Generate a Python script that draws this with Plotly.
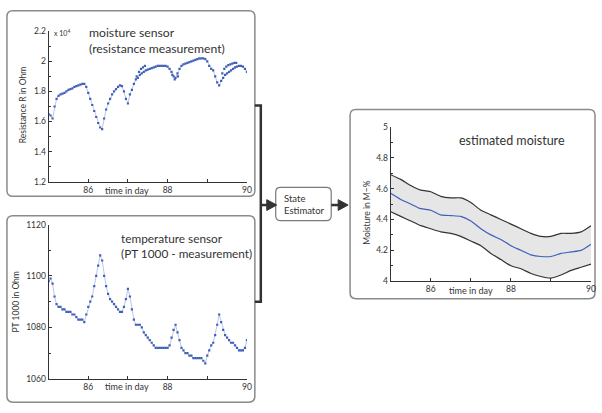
import plotly.graph_objects as go

W, H = 602, 413

# ---------------- data ----------------
# moisture sensor (resistance, in 10^4 Ohm)
t_res = [85.00, 85.05, 85.10, 85.15, 85.20, 85.25, 85.30, 85.35, 85.40, 85.45,
         85.50, 85.55, 85.60, 85.65, 85.70, 85.75, 85.80, 85.85, 85.90, 85.95,
         86.00, 86.05, 86.10, 86.15, 86.20, 86.25, 86.30, 86.35, 86.40, 86.45,
         86.50, 86.55, 86.60, 86.65, 86.70, 86.75, 86.80, 86.85, 86.90, 86.95,
         87.00, 87.05, 87.10, 87.15, 87.20, 87.25, 87.30, 87.35, 87.40, 87.45,
         87.50, 87.55, 87.60, 87.65, 87.70, 87.75, 87.80, 87.85, 87.90, 87.95,
         88.00, 88.05, 88.10, 88.15, 88.20, 88.25, 88.30, 88.35, 88.40, 88.45,
         88.50, 88.55, 88.60, 88.65, 88.70, 88.75, 88.80, 88.85, 88.90, 88.95,
         89.00, 89.05, 89.10, 89.15, 89.20, 89.25, 89.30, 89.35, 89.40, 89.45,
         89.50, 89.55, 89.60, 89.65, 89.70, 89.75, 89.80, 89.85, 89.90, 89.95,
         90.00]
res_1e4 = [1.65, 1.64, 1.62, 1.70, 1.75, 1.77, 1.78, 1.785, 1.79, 1.80,
           1.81, 1.815, 1.82, 1.83, 1.835, 1.84, 1.845, 1.85, 1.85, 1.83,
           1.79, 1.75, 1.71, 1.67, 1.63, 1.59, 1.56, 1.55, 1.62, 1.68,
           1.72, 1.75, 1.78, 1.80, 1.815, 1.83, 1.84, 1.835, 1.80, 1.75,
           1.72, 1.78, 1.81, 1.85, 1.88, 1.89, 1.91, 1.92, 1.93, 1.94,
           1.945, 1.95, 1.955, 1.96, 1.965, 1.97, 1.97, 1.97, 1.97, 1.97,
           1.965, 1.95, 1.93, 1.90, 1.89, 1.92, 1.95, 1.97, 1.98, 1.985,
           1.99, 1.995, 2.0, 2.005, 2.01, 2.015, 2.02, 2.02, 2.02, 2.015,
           2.0, 1.97, 1.95, 1.94, 1.90, 1.86, 1.84, 1.87, 1.89, 1.91,
           1.92, 1.93, 1.94, 1.95, 1.96, 1.965, 1.97, 1.97, 1.965, 1.95,
           1.93]
# second (scattered) track of resistance readings
t_res_extra = [87.22, 87.28, 87.33, 87.38, 87.43, 88.12, 88.18, 88.26,
               89.38, 89.43, 89.48, 89.53, 89.58, 89.63, 89.68, 89.73]
res_1e4_extra = [1.90, 1.93, 1.95, 1.96, 1.97, 1.91, 1.88, 1.90,
                 1.92, 1.95, 1.965, 1.975, 1.98, 1.985, 1.99, 1.99]

# temperature sensor (PT 1000, Ohm)
t_pt = t_res
pt1000 = [1098, 1099, 1097, 1092, 1089, 1088, 1088, 1087, 1087, 1086,
          1086, 1086, 1085, 1085, 1084, 1083, 1083, 1083, 1082, 1085,
          1088, 1090, 1092, 1096, 1100, 1104, 1108, 1106, 1100, 1096,
          1093, 1091, 1090, 1089, 1088, 1087, 1086, 1086, 1088, 1091,
          1095, 1092, 1087, 1083, 1081, 1081, 1081, 1080, 1078, 1077,
          1076, 1075, 1074, 1073, 1072, 1072, 1072, 1072, 1072, 1072,
          1072, 1073, 1076, 1079, 1081, 1078, 1075, 1072, 1071, 1070,
          1070, 1069, 1069, 1068, 1068, 1068, 1068, 1068, 1067, 1066,
          1069, 1071, 1073, 1074, 1077, 1081, 1085, 1082, 1079, 1077,
          1076, 1075, 1074, 1074, 1073, 1072, 1071, 1071, 1071, 1072,
          1075]

# estimated moisture (M-%)
t_est = [85.00, 85.25, 85.50, 85.75, 86.00, 86.25, 86.50, 86.75, 87.00, 87.25,
         87.50, 87.75, 88.00, 88.25, 88.50, 88.75, 89.00, 89.25, 89.50, 89.75, 90.00]
est_mid = [4.57, 4.53, 4.50, 4.47, 4.46, 4.43, 4.425, 4.42, 4.39, 4.34,
           4.30, 4.27, 4.23, 4.20, 4.17, 4.16, 4.16, 4.18, 4.19, 4.20, 4.24]
est_upper = [4.69, 4.66, 4.62, 4.59, 4.58, 4.55, 4.54, 4.54, 4.51, 4.46,
             4.43, 4.40, 4.37, 4.34, 4.31, 4.29, 4.29, 4.31, 4.31, 4.32, 4.36]
est_lower = [4.45, 4.42, 4.39, 4.36, 4.34, 4.32, 4.31, 4.29, 4.26, 4.23,
             4.18, 4.14, 4.10, 4.08, 4.05, 4.03, 4.02, 4.04, 4.07, 4.09, 4.11]

x_tickvals = [86, 88, 90]
x_ticktext = ["86", "88", "90"]

# ---------------- helpers ----------------
def px(x):
    return x / W

def py(y):
    return 1 - y / H

def rrect(x0, y0, x1, y1, r):
    X0, X1 = px(x0), px(x1)
    Y0, Y1 = py(y0), py(y1)
    rx, ry = r / W, r / H
    return (f"M {X0+rx},{Y0} L {X1-rx},{Y0} Q {X1},{Y0} {X1},{Y0-ry} "
            f"L {X1},{Y1+ry} Q {X1},{Y1} {X1-rx},{Y1} "
            f"L {X0+rx},{Y1} Q {X0},{Y1} {X0},{Y1+ry} "
            f"L {X0},{Y0-ry} Q {X0},{Y0} {X0+rx},{Y0} Z")

FONT = "Lato"
BLUE = "#3f5fb8"
DARK = "#333333"

fig = go.Figure()

dot = dict(color=BLUE, size=2.2, symbol="square")
faint = dict(color="rgba(63,95,184,0.45)", width=0.8)
fig.add_trace(go.Scatter(x=t_res, y=res_1e4, mode="lines+markers", marker=dot, line=faint,
                         xaxis="x", yaxis="y", showlegend=False))
fig.add_trace(go.Scatter(x=t_res_extra, y=res_1e4_extra, mode="markers", marker=dot,
                         xaxis="x", yaxis="y", showlegend=False))
fig.add_trace(go.Scatter(x=t_pt, y=pt1000, mode="lines+markers", marker=dot, line=faint,
                         xaxis="x2", yaxis="y2", showlegend=False))
fig.add_trace(go.Scatter(x=t_est, y=est_upper, mode="lines",
                         line=dict(color=DARK, width=1.2, shape="spline", smoothing=0.6),
                         xaxis="x3", yaxis="y3", showlegend=False))
fig.add_trace(go.Scatter(x=t_est, y=est_lower, mode="lines", fill="tonexty",
                         fillcolor="#e6e6e6",
                         line=dict(color=DARK, width=1.2, shape="spline", smoothing=0.6),
                         xaxis="x3", yaxis="y3", showlegend=False))
fig.add_trace(go.Scatter(x=t_est, y=est_mid, mode="lines",
                         line=dict(color=BLUE, width=1.2, shape="spline", smoothing=0.6),
                         xaxis="x3", yaxis="y3", showlegend=False))

tickfont = dict(family=FONT, size=8.5, color=DARK)
common = dict(showline=True, linecolor=DARK, linewidth=1, ticks="inside",
              ticklen=3, tickcolor=DARK, showgrid=False, zeroline=False,
              tickfont=tickfont, fixedrange=True)

def xax(x0, x1, y_anchor):
    return dict(common, domain=[px(x0), px(x1)], range=[85, 90], anchor=y_anchor,
                tickmode="array", tickvals=x_tickvals, ticktext=x_ticktext,
                minor=dict(tickmode="linear", tick0=85, dtick=1,
                           ticks="inside", ticklen=3, tickcolor=DARK))

def yax(y_top, y_bot, x_anchor, rng, tv, tt, minor_dtick):
    return dict(common, domain=[py(y_bot), py(y_top)], range=rng, anchor=x_anchor,
                tickmode="array", tickvals=tv, ticktext=tt,
                minor=dict(tickmode="linear", tick0=rng[0], dtick=minor_dtick,
                           ticks="inside", ticklen=2, tickcolor=DARK))

fig.update_layout(
    width=W, height=H, margin=dict(l=0, r=0, t=0, b=0),
    paper_bgcolor="white", plot_bgcolor="rgba(0,0,0,0)",
    font=dict(family=FONT, color=DARK),
    xaxis=xax(49, 249, "y"),
    yaxis=yax(27, 181, "x", [1.2, 2.2], [1.2, 1.4, 1.6, 1.8, 2.0, 2.2],
              ["1.2", "1.4", "1.6", "1.8", "2", "2.2"], 0.1),
    xaxis2=xax(49, 249, "y2"),
    yaxis2=yax(225, 383, "x2", [1060, 1120], [1060, 1080, 1100, 1120],
               ["1060", "1080", "1100", "1120"], 10),
    xaxis3=xax(394, 596, "y3"),
    yaxis3=yax(125, 283, "x3", [4, 5], [4, 4.2, 4.4, 4.6, 4.8, 5],
               ["4", "4.2", "4.4", "4.6", "4.8", "5"], 0.1),
)

shapes = []
# panel frames
for (a, b, c, d) in [(7, 6, 257, 196), (7, 216, 257, 407), (353, 107, 600, 301)]:
    shapes.append(dict(type="path", xref="paper", yref="paper", path=rrect(a, b, c, d, 6),
                       line=dict(color="#8a8a8a", width=1.5), fillcolor="rgba(0,0,0,0)",
                       layer="below"))
# state estimator box
shapes.append(dict(type="path", xref="paper", yref="paper", path=rrect(278, 187, 334, 221, 5),
                   line=dict(color="#7a7a7a", width=1.2), fillcolor="white"))
# bracket
shapes.append(dict(type="path", xref="paper", yref="paper",
                   path=f"M {px(257)},{py(103)} L {px(263)},{py(103)} L {px(263)},{py(304)} L {px(257)},{py(304)}",
                   line=dict(color=DARK, width=2.5), fillcolor="rgba(0,0,0,0)"))
# arrows
for (xs, xe) in [(263, 279), (334, 351)]:
    shapes.append(dict(type="line", xref="paper", yref="paper",
                       x0=px(xs), x1=px(xe - 8), y0=py(205), y1=py(205),
                       line=dict(color=DARK, width=2.5)))
    shapes.append(dict(type="path", xref="paper", yref="paper",
                       path=f"M {px(xe-10)},{py(199.5)} L {px(xe)},{py(205)} L {px(xe-10)},{py(210.5)} Z",
                       line=dict(color=DARK, width=1), fillcolor=DARK))
fig.update_layout(shapes=shapes)

ann = []
def text(x, y, s, size, xanchor="left", angle=0, color=DARK, yanchor="middle"):
    ann.append(dict(xref="paper", yref="paper", x=px(x), y=py(y), text=s, showarrow=False,
                    xanchor=xanchor, yanchor=yanchor, textangle=angle, align="left",
                    font=dict(family=FONT, size=size, color=color)))

text(88, 36.5, "moisture sensor<br>(resistance measurement)", 12.2)
text(52, 28, "x 10<sup>4</sup>", 7)
text(23, 102, "Resistance R in Ohm", 8.5, xanchor="center", angle=-90)
text(128, 190, "time in day", 9, xanchor="center")

text(120, 246.5, "temperature sensor<br>(PT 1000 - measurement)", 11.8)
text(16, 304, "PT 1000 in Ohm", 8.5, xanchor="center", angle=-90)
text(128, 391, "time in day", 9, xanchor="center")

text(461, 139, "estimated moisture", 12.5)
text(370, 213, "Moisture in M\u2212%", 8.5, xanchor="center", angle=-90)
text(475, 293, "time in day", 9, xanchor="center")

text(284, 204.5, "State<br>Estimator", 9.5)
fig.update_layout(annotations=ann)

fig.write_html("out.html")
